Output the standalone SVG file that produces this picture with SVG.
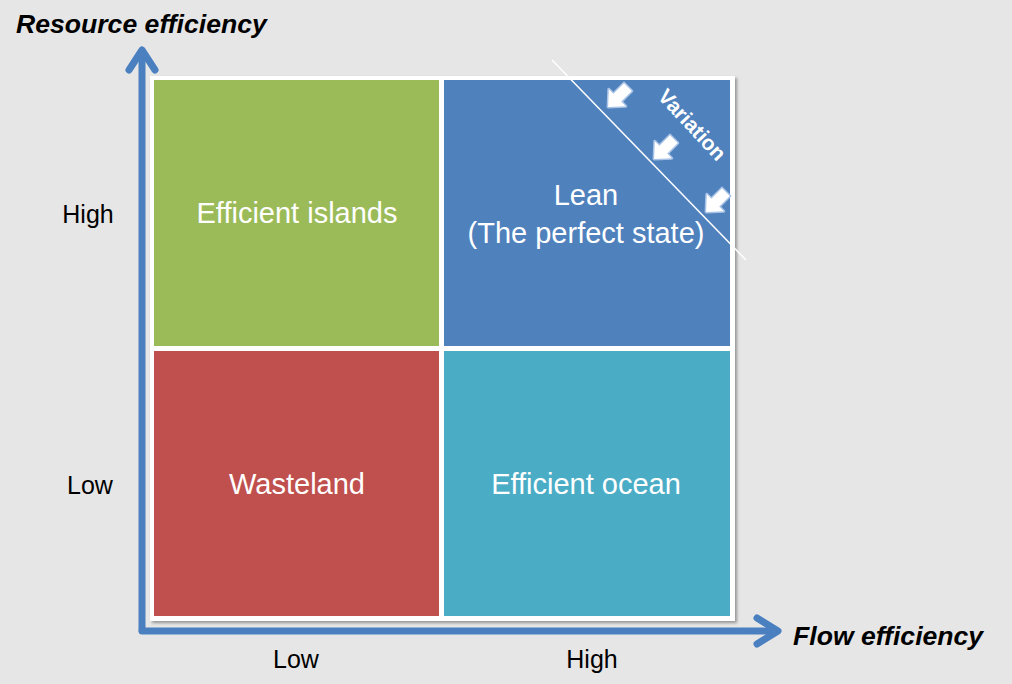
<svg xmlns="http://www.w3.org/2000/svg" width="1012" height="684" viewBox="0 0 1012 684">
<defs>
<style>
.q{font-family:"Liberation Sans",Arial,sans-serif;font-size:29px;fill:#fff;text-anchor:middle}
.lbl{font-family:"Liberation Sans",Arial,sans-serif;font-size:25px;fill:#000;text-anchor:middle}
.ttl{font-family:"Liberation Sans",Arial,sans-serif;font-size:26.6px;font-weight:bold;font-style:italic;fill:#000}
.axis{fill:none;stroke:#4a7fc0;stroke-width:7;stroke-linecap:round;stroke-linejoin:round}
.barr{fill:#fff;stroke:#a9c3e6;stroke-width:3;paint-order:stroke;stroke-linejoin:round}
</style>
<filter id="sh" x="-5%" y="-5%" width="110%" height="110%">
<feDropShadow dx="2" dy="2" stdDeviation="1.5" flood-color="#000" flood-opacity="0.35"/>
</filter>
<path id="ba" d="M-14,-5.5 L1,-5.5 L1,-12 L14,0 L1,12 L1,5.5 L-14,5.5 Z"/>
</defs>
<rect width="1012" height="684" fill="#e6e6e6"/>
<g id="connectors">
<path class="axis" d="M142,630 L142,52"/>
<path class="axis" d="M129,70 L142,50 L155,70"/>
<path class="axis" d="M142,631 L776,631"/>
<path class="axis" d="M757,618 L778,631 L757,644"/>
</g>
<rect x="150" y="76" width="585" height="545" fill="#fff" filter="url(#sh)"/>
<g id="efficient-islands">
<rect x="154" y="80" width="285" height="266" fill="#9bbb59"/>
<text class="q" x="297" y="223">Efficient islands</text>
</g>
<g id="lean">
<rect x="444" y="80" width="286" height="266" fill="#4f81bd"/>
<text class="q" x="586" y="205">Lean</text>
<text class="q" x="586" y="243">(The perfect state)</text>
</g>
<g id="wasteland">
<rect x="154" y="351" width="285" height="265" fill="#c0504d"/>
<text class="q" x="297" y="494">Wasteland</text>
</g>
<g id="efficient-ocean">
<rect x="444" y="351" width="286" height="265" fill="#4bacc6"/>
<text class="q" x="586" y="494">Efficient ocean</text>
</g>
<g id="variation">
<line x1="552" y1="60" x2="746" y2="260" stroke="#fff" stroke-width="1.5"/>
<use href="#ba" class="barr" transform="translate(618,97) rotate(135)"/>
<use href="#ba" class="barr" transform="translate(664,149) rotate(135)"/>
<use href="#ba" class="barr" transform="translate(716,202) rotate(135)"/>
<text x="692" y="132" transform="rotate(47 692 125)" font-family="Liberation Sans,Arial,sans-serif" font-size="21" font-weight="bold" fill="#fff" text-anchor="middle">Variation</text>
</g>
<g id="axis-labels">
<text class="ttl" x="16" y="33">Resource efficiency</text>
<text class="ttl" x="793" y="645" font-size="27.5">Flow efficiency</text>
<text class="lbl" x="88" y="223">High</text>
<text class="lbl" x="90" y="494">Low</text>
<text class="lbl" x="296" y="668">Low</text>
<text class="lbl" x="592" y="668">High</text>
</g>
</svg>
